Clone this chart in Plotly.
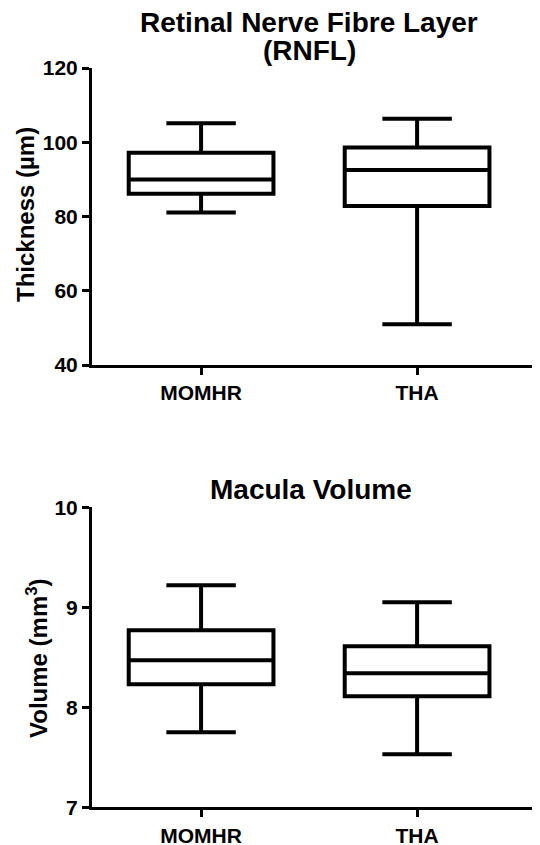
import plotly.graph_objects as go

# The page body has an 8px default margin, so the figure starts at (8, 8)
OFF = 8
W, H = 540 - OFF, 845 - OFF

categories = ["MOMHR", "THA"]

# Retinal Nerve Fibre Layer thickness (µm)
rnfl_lower = [81.1, 51.0]
rnfl_q1 = [86.1, 82.8]
rnfl_median = [90.0, 92.5]
rnfl_q3 = [97.2, 98.6]
rnfl_upper = [105.1, 106.3]

# Macula volume (mm^3)
mac_lower = [7.75, 7.53]
mac_q1 = [8.23, 8.11]
mac_median = [8.47, 8.34]
mac_q3 = [8.77, 8.61]
mac_upper = [9.22, 9.05]

rnfl_ticks = [40, 60, 80, 100, 120]
mac_ticks = [7, 8, 9, 10]

FONT = "Arial, Liberation Sans, sans-serif"


def px_x(x):
    return (x - OFF) / W


def px_y(y):
    return 1 - (y - OFF) / H


fig = go.Figure()

box_style = dict(
    fillcolor="white",
    line=dict(color="black", width=4),
    whiskerwidth=0.48,
    width=0.67,
    boxpoints=False,
    showlegend=False,
    hoverinfo="skip",
)

fig.add_trace(go.Box(
    x=categories, q1=rnfl_q1, median=rnfl_median, q3=rnfl_q3,
    lowerfence=rnfl_lower, upperfence=rnfl_upper,
    xaxis="x", yaxis="y", **box_style))

fig.add_trace(go.Box(
    x=categories, q1=mac_q1, median=mac_median, q3=mac_q3,
    lowerfence=mac_lower, upperfence=mac_upper,
    xaxis="x2", yaxis="y2", **box_style))

xrange_ = [-0.505, 1.569]
tickfont = dict(family=FONT, size=21, color="black", weight="bold")

common_x = dict(
    type="category", range=xrange_, showline=True, linewidth=3, linecolor="black",
    ticks="outside", ticklen=7, tickwidth=3, tickcolor="black",
    showgrid=False, zeroline=False, tickfont=tickfont, automargin=False,
    fixedrange=True,
)
common_y = dict(
    showline=True, linewidth=3, linecolor="black",
    ticks="outside", ticklen=7, tickwidth=3, tickcolor="black",
    showgrid=False, zeroline=False, tickfont=tickfont, automargin=False,
    fixedrange=True,
)

xdom = [px_x(92), 1]

fig.update_layout(
    width=W, height=H,
    margin=dict(l=0, r=0, t=0, b=0),
    paper_bgcolor="white", plot_bgcolor="white",
    font=dict(family=FONT, color="black"),
    xaxis=dict(domain=xdom, anchor="y", **common_x),
    yaxis=dict(domain=[px_y(365), px_y(68)], anchor="x", range=[40, 120],
               tickvals=rnfl_ticks, **common_y),
    xaxis2=dict(domain=xdom, anchor="y2", **common_x),
    yaxis2=dict(domain=[px_y(807.3), px_y(507.3)], anchor="x2", range=[7, 10],
                tickvals=mac_ticks, **common_y),
)

title_font = dict(family=FONT, size=28, color="black", weight="bold")
axis_title_font = dict(family=FONT, size=24, color="black", weight="bold")

ann = [
    dict(text="Retinal Nerve Fibre Layer", x=px_x(309), y=px_y(22), font=title_font),
    dict(text="(RNFL)", x=px_x(309), y=px_y(50), font=title_font),
    dict(text="Macula Volume", x=px_x(311), y=px_y(490), font=title_font),
    dict(text="Thickness (µm)", x=px_x(25), y=px_y(215), font=axis_title_font, textangle=-90),
    dict(text="Volume (mm<sup>3</sup>)", x=px_x(37), y=px_y(658), font=axis_title_font, textangle=-90),
]
for a in ann:
    fig.add_annotation(xref="paper", yref="paper", xanchor="center", yanchor="middle",
                       showarrow=False, **a)

fig.write_html("out.html")
